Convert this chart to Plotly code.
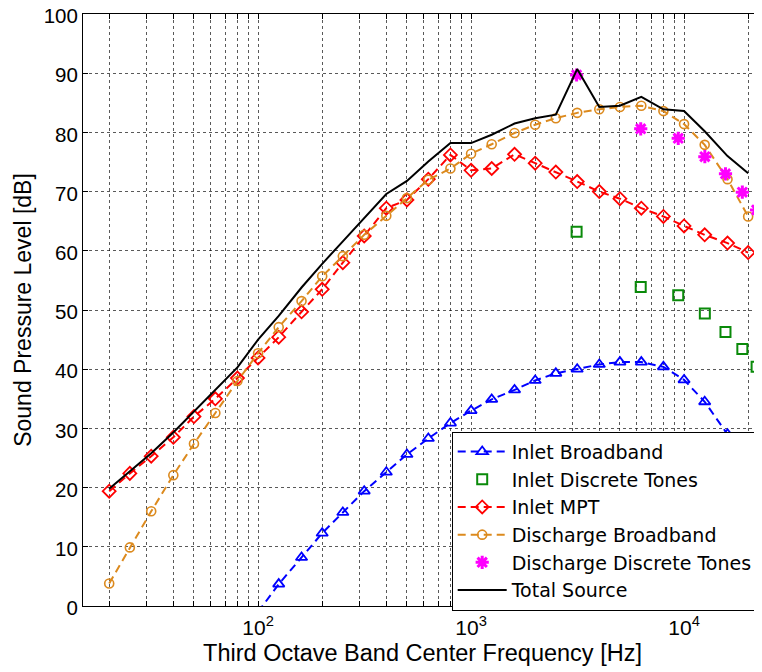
import plotly.graph_objects as go

# Third-octave band centre frequencies [Hz]
freqs = [20, 25, 31.5, 40, 50, 63, 80, 100, 125, 160, 200, 250, 315, 400, 500,
         630, 800, 1000, 1250, 1600, 2000, 2500, 3150, 4000, 5000, 6300, 8000,
         10000, 12500, 16000, 20000]

# Inlet broadband starts at 100 Hz
freqs_inlet_bb = [100, 125, 160, 200, 250, 315, 400, 500, 630, 800, 1000, 1250,
                  1600, 2000, 2500, 3150, 4000, 5000, 6300, 8000, 10000, 12500,
                  16000, 20000]
inlet_broadband = [-1.0, 3.7, 8.2, 12.3, 15.8, 19.4, 22.6, 25.6, 28.3, 30.9, 33.0,
                   34.9, 36.5, 38.1, 39.3, 40.0, 40.8, 41.2, 41.2, 40.4, 38.2, 34.5,
                   29.0, 22.0]

# Blade passing frequency harmonics [Hz]
tone_freqs = [3130, 6260, 9390, 12520, 15650, 18780, 21910]
inlet_tones = [63.2, 53.9, 52.5, 49.4, 46.3, 43.4, 40.4]
discharge_tones = [89.7, 80.6, 79.0, 75.9, 73.0, 69.9, 66.9]

inlet_mpt = [19.4, 22.4, 25.3, 28.5, 32.0, 35.0, 38.5, 41.9, 45.4, 49.7, 53.5, 58.0,
             62.5, 67.2, 68.6, 72.1, 76.2, 73.6, 73.9, 76.3, 74.8, 73.3, 71.7, 70.0,
             68.8, 67.2, 65.8, 64.2, 62.7, 61.3, 59.7]

discharge_broadband = [3.8, 9.9, 16.0, 22.1, 27.4, 32.6, 38.0, 42.7, 47.1, 51.5, 55.7,
                       59.1, 62.7, 65.9, 68.9, 72.0, 73.9, 76.4, 78.0, 79.9, 81.3, 82.4,
                       83.3, 83.9, 84.3, 84.5, 83.6, 81.4, 77.9, 72.1, 65.8]

total_source = [19.8, 22.8, 25.8, 29.3, 32.8, 36.4, 40.3, 45.0, 49.0, 53.8, 57.8, 61.6,
                65.6, 69.6, 71.8, 75.1, 78.2, 78.2, 79.6, 81.5, 82.4, 83.0, 90.7, 84.3,
                84.5, 86.0, 83.9, 83.6, 80.2, 76.0, 73.1]

# Grid / tick positions
x_tickvals = [20, 30, 40, 50, 60, 70, 80, 90, 100, 200, 300, 400, 500, 600, 700, 800,
              900, 1000, 2000, 3000, 4000, 5000, 6000, 7000, 8000, 9000, 10000, 20000]
x_major = {100: "10<sup>2</sup>", 1000: "10<sup>3</sup>", 10000: "10<sup>4</sup>"}
x_ticktext = [x_major.get(v, "") for v in x_tickvals]
y_tickvals = [0, 10, 20, 30, 40, 50, 60, 70, 80, 90, 100]

FONT = "Liberation Sans, Arial, Helvetica, sans-serif"
LEGEND_FONT = "DejaVu Sans, Liberation Sans, Arial, sans-serif"
ORANGE = "#DC8A1E"
GREEN = "#0A8A0A"
GRID = "rgba(0,0,0,0.65)"

# The page body adds an 8 px offset; the figure is sized so the plot lands
# at the reference position inside the 762x672 window.
FIG_W, FIG_H = 754, 664
M_L, M_T, M_B = 75, 6, 66
PLOT_W = FIG_W - M_L
PLOT_H = FIG_H - M_T - M_B

fig = go.Figure()

fig.add_trace(go.Scatter(
    x=freqs_inlet_bb, y=inlet_broadband, name="Inlet Broadband", mode="lines+markers",
    line=dict(color="#0000FF", width=2, dash="8px,5px"),
    marker=dict(symbol="triangle-up-open", size=10, color="#0000FF", line=dict(width=1.8)),
))
fig.add_trace(go.Scatter(
    x=tone_freqs, y=inlet_tones, name="Inlet Discrete Tones", mode="markers",
    marker=dict(symbol="square-open", size=10, color=GREEN, line=dict(width=2)),
))
fig.add_trace(go.Scatter(
    x=freqs, y=inlet_mpt, name="Inlet MPT", mode="lines+markers",
    line=dict(color="#FF0000", width=2, dash="8px,5px"),
    marker=dict(symbol="diamond-open", size=10, color="#FF0000", line=dict(width=1.8)),
))
fig.add_trace(go.Scatter(
    x=freqs, y=discharge_broadband, name="Discharge Broadband", mode="lines+markers",
    line=dict(color=ORANGE, width=2, dash="8px,5px"),
    marker=dict(symbol="circle-open", size=9, color=ORANGE, line=dict(width=1.6)),
))
fig.add_trace(go.Scatter(
    x=tone_freqs, y=discharge_tones, name="Discharge Discrete Tones", mode="markers",
    marker=dict(symbol="asterisk-open", size=11, color="#FF00FF",
                line=dict(width=3, color="#FF00FF")),
))
fig.add_trace(go.Scatter(
    x=freqs, y=total_source, name="Total Source", mode="lines",
    line=dict(color="#000000", width=2),
))

fig.update_layout(
    width=FIG_W, height=FIG_H,
    margin=dict(l=M_L, r=0, t=M_T, b=M_B, autoexpand=False),
    paper_bgcolor="white", plot_bgcolor="white",
    font=dict(family=FONT, size=21, color="black"),
    showlegend=True,
    legend=dict(
        x=(451.7 - 83) / PLOT_W, y=(606 - 431.7) / PLOT_H, xanchor="left", yanchor="top",
        bgcolor="white", bordercolor="black", borderwidth=1,
        font=dict(family=LEGEND_FONT, size=19, color="black"),
        itemwidth=49, tracegroupgap=0,
    ),
)

fig.update_xaxes(
    type="log", range=[1.178, 4.366], automargin=False,
    tickvals=x_tickvals, ticktext=x_ticktext,
    ticks="inside", ticklen=5, tickwidth=1, tickcolor="black",
    showline=True, linecolor="black", linewidth=1, mirror="ticks",
    showgrid=True, gridcolor=GRID, gridwidth=1, griddash="dot",
    zeroline=False, ticklabelstandoff=3, ticklabeloverflow="allow",
    tickfont=dict(family=FONT, size=21),
    title=dict(text="Third Octave Band Center Frequency [Hz]",
               font=dict(family=FONT, size=23.5), standoff=6),
)
fig.update_yaxes(
    range=[0, 100], tickvals=y_tickvals, automargin=False,
    ticks="inside", ticklen=5, tickwidth=1, tickcolor="black",
    showline=True, linecolor="black", linewidth=1, mirror=False,
    showgrid=True, gridcolor=GRID, gridwidth=1, griddash="dot",
    zeroline=False, ticklabeloverflow="allow", ticklabelshift=2,
    tickfont=dict(family=FONT, size=20.5),
    title=dict(text="Sound Pressure Level [dB]",
               font=dict(family=FONT, size=23), standoff=5),
)

fig.write_html("out.html")
